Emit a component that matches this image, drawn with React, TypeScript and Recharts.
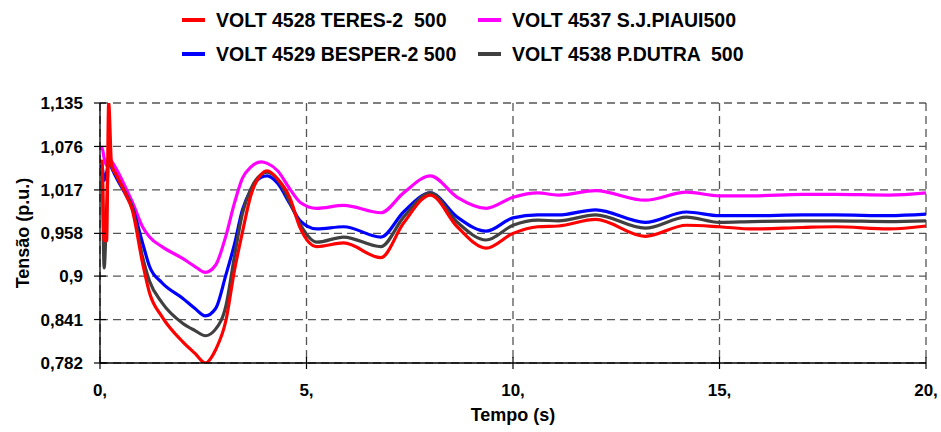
import { LineChart, Line, XAxis, YAxis, CartesianGrid } from "recharts"

// time (s)
const tempo = [
  0, 0.05, 0.1, 0.16, 0.21, 0.28, 0.4, 0.63, 0.78, 1.03, 1.2, 1.5, 2.0, 2.3, 2.55, 2.8, 3.05, 3.25, 3.45, 3.65, 3.9,
  4.05, 4.3, 4.6, 4.85, 5.25, 5.9, 6.8, 7.35, 8.0, 8.65, 9.35, 10.0, 10.6, 11.1, 12.0, 13.2, 14.2, 15.0, 15.8, 17.0,
  17.8, 19.1, 20.0,
]

// voltages (p.u.)
const teres = [
  1.056, 1.056, 0.948, 0.948, 1.135, 1.051, 1.037, 1.01, 0.99, 0.918, 0.877, 0.845, 0.811, 0.795, 0.782, 0.8, 0.84,
  0.906, 0.96, 1.009, 1.038, 1.043, 1.032, 1.006, 0.965, 0.94, 0.945, 0.925, 0.972, 1.01, 0.967, 0.938, 0.958, 0.967,
  0.968, 0.977, 0.954, 0.969, 0.967, 0.964, 0.966, 0.967, 0.964, 0.968,
]
const piaui = [
  1.074, 1.074, 1.06, 1.05, 1.062, 1.056, 1.045, 1.019, 1.001, 0.967, 0.953, 0.94, 0.924, 0.913, 0.905, 0.915, 0.955,
  0.998, 1.033, 1.048, 1.055, 1.053, 1.043, 1.018, 1.0, 0.992, 0.996, 0.986, 1.013, 1.036, 1.007, 0.992, 1.007, 1.013,
  1.01, 1.016, 1.003, 1.014, 1.009, 1.009, 1.011, 1.011, 1.01, 1.013,
]
const besper = [
  1.049, 1.049, 1.03, 1.04, 1.055, 1.047, 1.033, 1.01, 0.994, 0.945, 0.913, 0.891, 0.87, 0.856, 0.846, 0.856, 0.902,
  0.942, 0.99, 1.017, 1.034, 1.036, 1.026, 0.998, 0.975, 0.964, 0.967, 0.953, 0.987, 1.013, 0.98, 0.961, 0.979, 0.983,
  0.983, 0.99, 0.973, 0.987, 0.982, 0.982, 0.983, 0.983, 0.982, 0.984,
]
const dutra = [
  1.04, 1.04, 0.911, 0.99, 1.06, 1.049, 1.036, 1.012, 0.994, 0.926, 0.893, 0.864, 0.836, 0.826, 0.819, 0.828, 0.86,
  0.925, 0.985, 1.018, 1.038, 1.041, 1.031, 1.0, 0.97, 0.946, 0.953, 0.94, 0.98, 1.013, 0.973, 0.949, 0.969, 0.976,
  0.975, 0.983, 0.965, 0.98, 0.973, 0.974, 0.975, 0.975, 0.974, 0.975,
]

const yTicks = [0.782, 0.841, 0.9, 0.958, 1.017, 1.076, 1.135]
const xTicks = [0, 5, 10, 15, 20]

// legend order as in the picture: row by row
const series = [
  { key: "teres", name: "VOLT 4528 TERES-2  500", color: "#ff0000" },
  { key: "piaui", name: "VOLT 4537 S.J.PIAUI500", color: "#ff00ff" },
  { key: "besper", name: "VOLT 4529 BESPER-2 500", color: "#0000ff" },
  { key: "dutra", name: "VOLT 4538 P.DUTRA  500", color: "#404040" },
]
// red drawn last so it sits on top
const drawOrder = ["piaui", "besper", "dutra", "teres"]

const data = tempo.map((t, i) => ({
  t,
  teres: teres[i],
  piaui: piaui[i],
  besper: besper[i],
  dutra: dutra[i],
}))

const font = "'Liberation Sans', Arial, sans-serif"
const fmtY = (v: number) => String(v).replace(".", ",")

const YTick = (props: any) => {
  const { x, y, payload } = props
  return (
    <g>
      <line x1={x + 11} x2={x + 23} y1={y} y2={y} stroke="#000" strokeWidth={1.2} />
      <text x={x} y={y} dy="0.36em" textAnchor="end" fontSize={17} fontWeight="bold" fill="#000" fontFamily={font}>
        {fmtY(payload.value)}
      </text>
    </g>
  )
}

const XTick = (props: any) => {
  const { x, y, payload } = props
  return (
    <g>
      <line x1={x} x2={x} y1={y - 26} y2={y - 14} stroke="#000" strokeWidth={1.2} />
      <text x={x} y={y} dy="0.74em" textAnchor="middle" fontSize={17} fontWeight="bold" fill="#000" fontFamily={font}>
        {payload.value + ","}
      </text>
    </g>
  )
}

export default function App() {
  return (
    <div style={{ position: "absolute", left: 0, top: 0, width: 941, height: 432, background: "#fff", fontFamily: font }}>
      <div
        style={{
          position: "absolute",
          left: 182,
          top: 3,
          display: "grid",
          gridTemplateColumns: "296px auto",
          gridAutoRows: "34px",
          fontSize: 19.5,
          fontWeight: "bold",
          color: "#000",
          zIndex: 2,
        }}
      >
        {series.map((s) => (
          <div key={s.key} style={{ display: "flex", alignItems: "center", whiteSpace: "pre" }}>
            <span style={{ display: "inline-block", width: 23, height: 4, background: s.color, marginRight: 11 }} />
            <span>{s.name}</span>
          </div>
        ))}
      </div>
      <LineChart width={941} height={432} data={data} margin={{ top: 103, right: 15, bottom: 9, left: 10 }}>
        <CartesianGrid stroke="#555" strokeWidth={1.3} strokeDasharray="8 5" />
        <XAxis
          dataKey="t"
          type="number"
          domain={[0, 20]}
          ticks={xTicks}
          height={60}
          tickSize={6}
          tickMargin={14}
          tickLine={false}
          tick={<XTick />}
          stroke="#000"
          strokeWidth={1.3}
          label={{
            value: "Tempo (s)",
            position: "insideBottom",
            offset: 2,
            fill: "#000",
            fontSize: 18,
            fontWeight: "bold",
            fontFamily: font,
          }}
        />
        <YAxis
          type="number"
          domain={[0.782, 1.135]}
          ticks={yTicks}
          allowDataOverflow
          width={90}
          tickSize={6}
          tickMargin={11}
          tickLine={false}
          tick={<YTick />}
          stroke="#000"
          strokeWidth={1.3}
          label={{
            value: "Tensão (p.u.)",
            angle: -90,
            position: "insideLeft",
            offset: 13,
            fill: "#000",
            fontSize: 18,
            fontWeight: "bold",
            fontFamily: font,
            style: { textAnchor: "middle" },
          }}
        />
        {drawOrder.map((k) => {
          const s = series.find((d) => d.key === k)!
          return (
            <Line
              key={k}
              type="monotone"
              dataKey={k}
              name={s.name}
              stroke={s.color}
              strokeWidth={3.2}
              dot={false}
              isAnimationActive={false}
            />
          )
        })}
      </LineChart>
    </div>
  )
}
